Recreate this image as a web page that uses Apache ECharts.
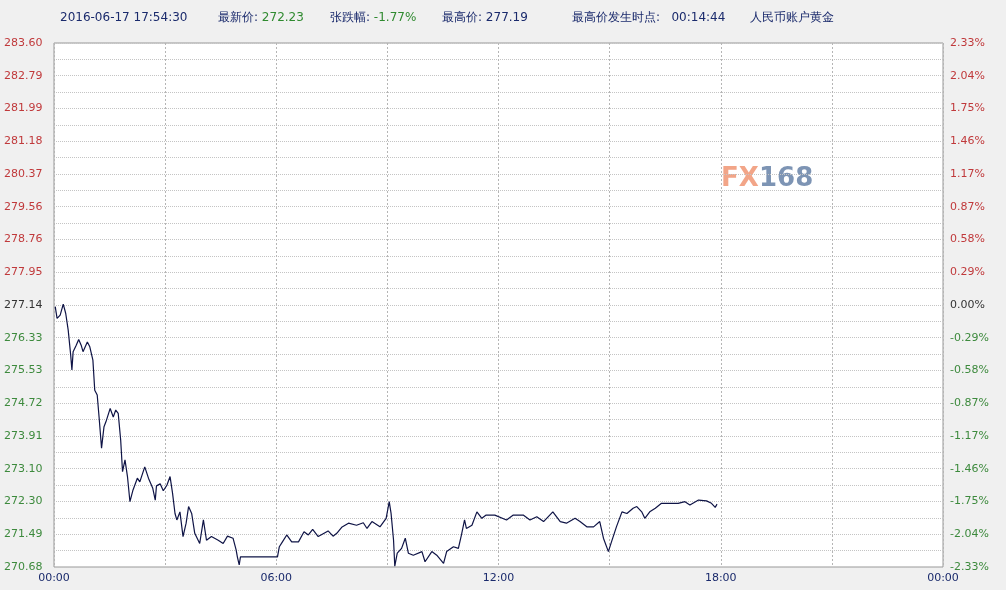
<!DOCTYPE html>
<html lang="zh">
<head>
<meta charset="UTF-8">
<title>人民币账户黄金</title>
<script src="https://cdn.jsdelivr.net/npm/echarts/dist/echarts.min.js"></script>
<style>
  html, body { margin: 0; padding: 0; background: #f0f0f0; }
  #chart { width: 1006px; height: 590px; }
</style>
</head>
<body>
<div id="chart"></div>
<script>
// minutes since 00:00
var times = [2,5,10,15,19,23,27,29,31,36,40,44,47,54,58,63,66,70,73,77,81,85,91,96,100,104,108,111,115,119,
  123,128,135,139,147,153,160,164,166,172,177,183,188,192,196,199,204,209,214,218,223,228,236,242,247,255,266,274,281,290,
  295,297,300,302,362,365,370,377,385,396,405,412,419,428,444,452,458,466,477,490,501,507,515,528,538,543,546,550,552,556,
  563,569,574,582,596,601,612,620,631,636,647,655,660,665,668,677,685,693,700,714,733,744,760,771,782,793,808,820,830,844,
  852,863,874,884,890,898,903,911,920,928,938,944,952,957,965,974,984,998,1011,1022,1030,1044,1057,1065,1071,1074];
var prices = [277.10,276.81,276.89,277.16,276.93,276.52,275.91,275.54,275.99,276.15,276.29,276.15,275.99,276.23,276.11,275.78,275.04,274.92,274.38,273.61,274.14,274.30,274.59,274.38,274.55,274.47,273.81,273.03,273.32,272.91,
  272.29,272.58,272.87,272.78,273.15,272.87,272.62,272.33,272.68,272.73,272.56,272.70,272.91,272.50,272.00,271.84,272.04,271.43,271.76,272.17,272.00,271.51,271.26,271.84,271.34,271.43,271.34,271.26,271.44,271.39,
  271.10,270.93,270.73,270.93,270.93,271.18,271.30,271.47,271.30,271.30,271.55,271.47,271.61,271.43,271.57,271.44,271.51,271.66,271.76,271.71,271.77,271.63,271.80,271.67,271.88,272.29,272.00,271.34,270.70,271.02,
  271.14,271.39,271.02,270.97,271.06,270.81,271.06,270.97,270.77,271.06,271.18,271.14,271.47,271.84,271.63,271.71,272.04,271.88,271.96,271.96,271.84,271.96,271.96,271.84,271.92,271.80,272.04,271.80,271.76,271.88,
  271.80,271.67,271.67,271.80,271.39,271.06,271.30,271.67,272.04,272.00,272.13,272.17,272.04,271.88,272.04,272.13,272.25,272.25,272.25,272.29,272.21,272.33,272.31,272.25,272.15,272.23];

var priceLabels = ['270.68','271.49','272.30','273.10','273.91','274.72','275.53','276.33','277.14',
  '277.95','278.76','279.56','280.37','281.18','281.99','282.79','283.60'];
var pctLabels = ['-2.33%','-2.04%','-1.75%','-1.46%','-1.17%','-0.87%','-0.58%','-0.29%','0.00%',
  '0.29%','0.58%','0.87%','1.17%','1.46%','1.75%','2.04%','2.33%'];
var timeLabels = ['00:00','06:00','12:00','18:00','00:00'];

// header items: [label, value, left]
var header = [
  ['', '2016-06-17 17:54:30', 60],
  ['最新价: ', '272.23', 218],
  ['张跌幅: ', '-1.77%', 330],
  ['最高价: ', '277.19', 442],
  ['最高价发生时点:   ', '00:14:44', 572],
  ['人民币账户黄金', '', 750]
];
var greenValues = ['272.23', '-1.77%'];

var yMin = 270.68, yMax = 283.60, halfStep = (yMax - yMin) / 32;
var baseIdx = 8;

function tickIdx(v) { return Math.round((v - yMin) / halfStep); }

function yLabel(list, left) {
  var st = { fontFamily: 'DejaVu Sans', fontSize: 11, fontWeight: 'normal' };
  return {
    fontFamily: 'DejaVu Sans', fontSize: 11,
    align: 'left', margin: left ? 50 : 7,
    formatter: function (v) {
      var i = tickIdx(v);
      if (i % 2) return '';
      var k = i / 2;
      return '{c' + (k > baseIdx ? 'r' : (k < baseIdx ? 'g' : 'k')) + '|' + list[k] + '}';
    },
    rich: {
      cr: Object.assign({ color: '#c0393b' }, st),
      cg: Object.assign({ color: '#3d8a3d' }, st),
      ck: Object.assign({ color: '#333' }, st)
    }
  };
}

var tStyle = { fontFamily: 'DejaVu Sans', fontSize: 12, fontWeight: 'normal' };

var chart = echarts.init(document.getElementById('chart'));
chart.setOption({
  backgroundColor: '#f0f0f0',
  animation: false,
  title: header.map(function (h) {
    var txt = (h[0] ? '{l|' + h[0] + '}' : '') + (h[1] ? '{' + (greenValues.indexOf(h[1]) >= 0 ? 'g' : 'l') + '|' + h[1] + '}' : '');
    return {
      left: h[2], top: 12, padding: 0,
      text: txt,
      textStyle: {
        fontWeight: 'normal',
        rich: {
          l: Object.assign({ color: '#1a2a6c' }, tStyle),
          g: Object.assign({ color: '#2f8a2f' }, tStyle)
        }
      }
    };
  }),
  grid: { left: 54, right: 63, top: 43, bottom: 23, show: true, backgroundColor: '#fff', borderColor: '#999', borderWidth: 1 },
  graphic: [{
    type: 'group', left: 714, top: 163, z: 10,
    children: [
      { type: 'rect', shape: { x: 0, y: 0, width: 116, height: 32 }, style: { fill: '#fff' } },
      { type: 'text', left: 7, top: 3, style: { text: 'FX', fill: '#f2a588', font: 'bold 26px "DejaVu Sans"' } },
      { type: 'text', left: 45, top: 3, style: { text: '168', fill: '#7d94b4', font: 'bold 26px "DejaVu Sans"' } }
    ]
  }],
  xAxis: {
    type: 'value', min: 0, max: 1440, interval: 180,
    axisLine: { show: false }, axisTick: { show: false },
    axisLabel: {
      color: '#1a2a6c', fontFamily: 'DejaVu Sans', fontSize: 11, margin: 6,
      formatter: function (v) { return v % 360 === 0 ? timeLabels[v / 360] : ''; }
    },
    splitLine: { show: true, lineStyle: { color: '#b5b5b5', type: [2, 2], width: 1 } }
  },
  yAxis: [{
    type: 'value', min: yMin, max: yMax, interval: halfStep,
    axisLine: { show: false }, axisTick: { show: false },
    axisLabel: yLabel(priceLabels, true),
    splitLine: { show: true, lineStyle: { color: '#c4c4c4', type: [1, 1], width: 1 } }
  }, {
    type: 'value', min: yMin, max: yMax, interval: halfStep, position: 'right',
    axisLine: { show: false }, axisTick: { show: false },
    axisLabel: yLabel(pctLabels, false),
    splitLine: { show: false }
  }],
  series: [{
    type: 'line', symbol: 'none',
    lineStyle: { color: '#0f1446', width: 1.2 },
    data: times.map(function (t, i) { return [t, prices[i]]; })
  }]
});
</script>
</body>
</html>
